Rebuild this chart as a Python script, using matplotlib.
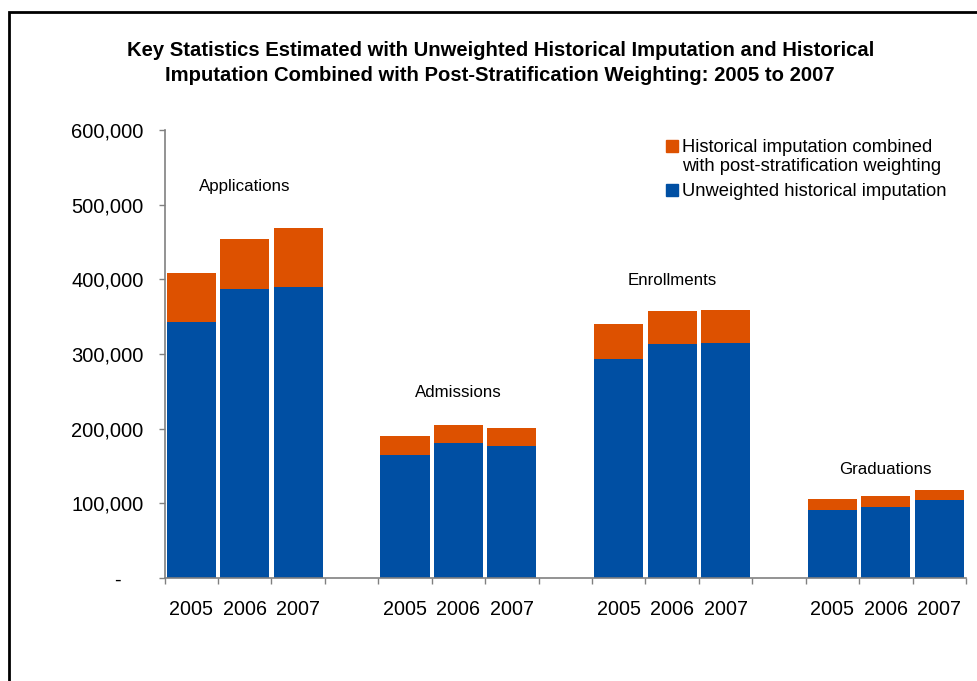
import matplotlib
matplotlib.use("Agg")
import matplotlib.pyplot as plt
from matplotlib.patches import Rectangle
from matplotlib.ticker import FuncFormatter
import numpy as np

plt.rcParams['font.family'] = ['Liberation Sans', 'DejaVu Sans']

# Data
groups = ['Applications', 'Admissions', 'Enrollments', 'Graduations']
years = ['2005', '2006', '2007']
unweighted = [343000, 387000, 390000,
              165000, 181000, 177000,
              293000, 313000, 315000,
              91000, 95000, 105000]
combined_total = [409000, 454000, 469000,
                  190000, 205000, 201000,
                  340000, 358000, 359000,
                  106000, 110000, 118000]
label_heights = [524000, 249000, 399000, 145000]
legend_labels = ['Historical imputation combined\nwith post-stratification weighting',
                 'Unweighted historical imputation']

blue = '#004FA3'
orange = '#DD5100'
grey = '#808080'

# slot positions: 3 bars per group then an empty slot
slots = np.array([g * 4 + i for g in range(len(groups)) for i in range(3)])
centers = slots + 0.5
extra = np.array(combined_total) - np.array(unweighted)

fig = plt.figure(figsize=(9.77, 6.81), dpi=100)
ax = fig.add_axes([164.5 / 977, 1 - 578 / 681, (966 - 164.5) / 977, (578 - 130) / 681])

ax.bar(centers, unweighted, width=0.92, color=blue, zorder=2)
ax.bar(centers, extra, bottom=unweighted, width=0.92, color=orange, zorder=2)

ax.set_xlim(0, 15)
ax.set_ylim(0, 600000)
ax.set_yticks(np.arange(0, 600001, 100000))
ax.yaxis.set_major_formatter(FuncFormatter(lambda v, p: '-    ' if v == 0 else f'{int(v):,}'))

ax.set_xticks(np.arange(0, 16))
ax.set_xticklabels([])
ax.set_xticks(centers, minor=True)
ax.set_xticklabels(years * len(groups), minor=True)

ax.tick_params(axis='y', direction='out', length=4.5, width=1, color=grey,
               labelsize=14.5, pad=10.5)
ax.tick_params(axis='x', which='major', direction='out', length=4.5, width=1, color=grey)
ax.tick_params(axis='x', which='minor', length=0, labelsize=14.2, pad=16)

for side in ['top', 'right']:
    ax.spines[side].set_visible(False)
for side in ['left', 'bottom']:
    ax.spines[side].set_color(grey)
    ax.spines[side].set_linewidth(1.2)

for g, name in enumerate(groups):
    ax.text(g * 4 + 1.5, label_heights[g], name, ha='center', va='center', fontsize=12.2)

# title
fig.text(0.512, 1 - 63 / 681,
         'Key Statistics Estimated with Unweighted Historical Imputation and Historical\n'
         'Imputation Combined with Post-Stratification Weighting: 2005 to 2007',
         ha='center', va='center', fontsize=14.6, fontweight='bold', linespacing=1.4)

# legend
fig.patches.append(Rectangle((666 / 977, 1 - 152 / 681), 12 / 977, 12 / 681,
                             transform=fig.transFigure, color=orange))
fig.patches.append(Rectangle((666 / 977, 1 - 196 / 681), 12 / 977, 12 / 681,
                             transform=fig.transFigure, color=blue))
fig.text(682 / 977, 1 - 157 / 681, legend_labels[0], ha='left', va='center',
         fontsize=13.2, linespacing=1.1)
fig.text(682 / 977, 1 - 191 / 681, legend_labels[1], ha='left', va='center', fontsize=13.2)

# outer frame
fig.patches.append(Rectangle((8.5 / 977, -0.1), 1.2, 1 - 12 / 681 + 0.1,
                             transform=fig.transFigure, fill=False,
                             edgecolor='black', linewidth=2))

fig.savefig('out.png', dpi=100)
